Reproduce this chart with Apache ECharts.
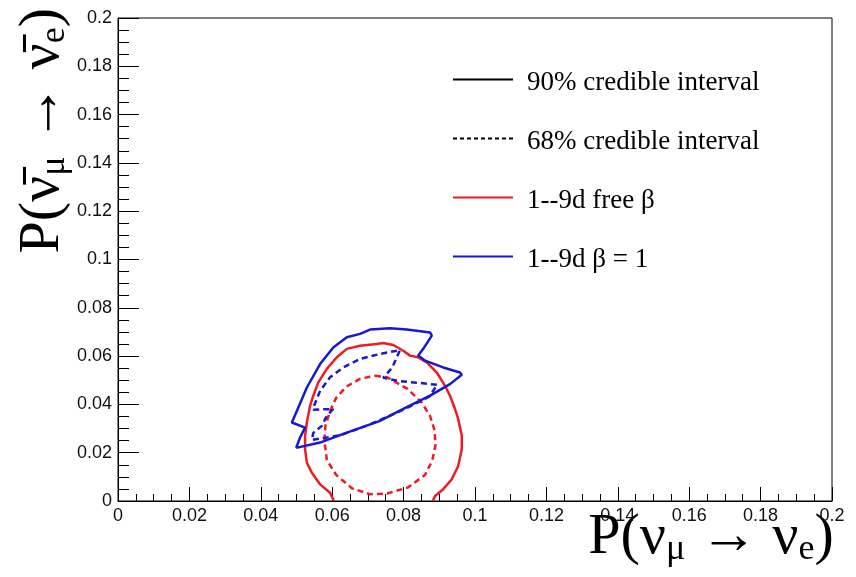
<!DOCTYPE html>
<html>
<head>
<meta charset="utf-8">
<script src="https://cdn.jsdelivr.net/npm/echarts@6/dist/echarts.min.js"></script>
<style>
html,body{margin:0;padding:0;background:#fff;}
#chart{width:856px;height:577px;}
</style>
</head>
<body>
<div id="chart"></div>
<script>
// Axis settings
const axisMin = 0;
const axisMax = 0.2;
const axisInterval = 0.02;
const tickLabels = ['0','0.02','0.04','0.06','0.08','0.1','0.12','0.14','0.16','0.18','0.2'];

// Legend entries
const legendNames = ['90% credible interval', '68% credible interval', '1--9d free β', '1--9d β = 1'];

// 90% credible contour, free beta (red, solid) [x, y]
const red90 = [
  [0.0605,0.0000],[0.0594,0.0034],[0.0566,0.0069],[0.0543,0.0117],[0.0529,0.0159],
  [0.0524,0.0215],[0.0524,0.0270],[0.0529,0.0325],[0.0538,0.0394],[0.0547,0.0436],
  [0.0561,0.0491],[0.0585,0.0547],[0.0613,0.0595],[0.0641,0.0630],[0.0678,0.0643],
  [0.0725,0.0650],[0.0743,0.0654],[0.0771,0.0646],[0.0799,0.0622],[0.0818,0.0602],
  [0.0841,0.0595],[0.0865,0.0574],[0.0893,0.0532],[0.0916,0.0477],[0.0930,0.0436],
  [0.0944,0.0381],[0.0953,0.0339],[0.0963,0.0270],[0.0963,0.0215],[0.0953,0.0145],
  [0.0935,0.0090],[0.0911,0.0049],[0.0888,0.0021],[0.0882,0.0000]
];

// 68% credible contour, free beta (red, dashed)
const red68 = [
  [0.0720,0.0519],[0.0754,0.0512],[0.0810,0.0465],[0.0849,0.0411],[0.0874,0.0353],
  [0.0887,0.0291],[0.0889,0.0228],[0.0880,0.0166],[0.0860,0.0108],[0.0812,0.0056],
  [0.0754,0.0031],[0.0706,0.0028],[0.0656,0.0052],[0.0611,0.0108],[0.0585,0.0170],
  [0.0578,0.0249],[0.0581,0.0311],[0.0594,0.0373],[0.0611,0.0427],[0.0639,0.0473],
  [0.0678,0.0506],[0.0720,0.0519]
];

// 90% credible contour, beta = 1 (blue, solid)
const blue90 = [
  [0.0499,0.0220],[0.0566,0.0242],[0.0641,0.0283],[0.0734,0.0332],[0.0799,0.0381],
  [0.0874,0.0436],[0.0930,0.0484],[0.0963,0.0523],[0.0958,0.0532],[0.0911,0.0553],
  [0.0860,0.0581],[0.0841,0.0602],[0.0855,0.0630],[0.0879,0.0685],[0.0874,0.0698],
  [0.0809,0.0710],[0.0762,0.0715],[0.0706,0.0710],[0.0678,0.0692],[0.0641,0.0678],
  [0.0603,0.0636],[0.0566,0.0567],[0.0529,0.0470],[0.0501,0.0373],[0.0487,0.0325],
  [0.0524,0.0304],[0.0510,0.0263],[0.0499,0.0220]
];

// 68% credible contour, beta = 1 (blue, dashed)
const blue68 = [
  [0.0893,0.0481],[0.0837,0.0490],[0.0790,0.0496],[0.0743,0.0510],[0.0768,0.0552],
  [0.0790,0.0625],[0.0734,0.0609],[0.0678,0.0588],[0.0631,0.0553],[0.0594,0.0512],
  [0.0566,0.0456],[0.0549,0.0394],[0.0547,0.0378],[0.0603,0.0381],[0.0585,0.0353],
  [0.0571,0.0311],[0.0547,0.0282],[0.0543,0.0253],[0.0622,0.0272],[0.0706,0.0317],
  [0.0799,0.0378],[0.0874,0.0434],[0.0893,0.0481]
];

const RED = '#ec1c24';
const BLUE = '#1818d0';
const serif = "'Liberation Serif', 'DejaVu Serif', serif";
const sans = "'Liberation Sans', Arial, sans-serif";

// legend icons: a solid line and a dashed line (tiny dot below lifts the line above centre)
const lift = 'M30,8h0.01v0.01h-0.01Z';
const solidIcon = 'path://M0,0H60V2H0Z' + lift;
let dashPath = 'path://';
for (let x = 0; x < 60; x += 7) { dashPath += 'M' + x + ',0h4v2h-4Z'; }
const dashedIcon = dashPath + 'M59.99,0h0.01v0.01h-0.01Z' + lift;

function fmt(v) {
  const i = Math.round((v - axisMin) / axisInterval);
  return tickLabels[i] !== undefined ? tickLabels[i] : '';
}

function contour(name, data, color, dashed) {
  return {
    name: name,
    type: 'line',
    data: data,
    showSymbol: false,
    symbol: 'none',
    smooth: false,
    silent: true,
    clip: true,
    z: 3,
    lineStyle: { color: color, width: 2.5, type: dashed ? [6, 4] : 'solid' },
    itemStyle: { color: color }
  };
}

function legendOnly(name, color) {
  return {
    name: name,
    type: 'line',
    data: [],
    symbol: 'none',
    lineStyle: { color: color, width: 2 },
    itemStyle: { color: color }
  };
}

const axisCommon = {
  type: 'value',
  min: axisMin,
  max: axisMax,
  interval: axisInterval,
  splitLine: { show: false },
  nameMoveOverlap: false,
  axisLine: { show: true, onZero: false, lineStyle: { color: '#000', width: 1 } }
};

const titleRich = {
  a: { fontFamily: serif, fontSize: 58, lineHeight: 60, color: '#000' },
  s: { fontFamily: serif, fontSize: 36, lineHeight: 36, color: '#000', padding: [24, 0, 0, 0] }
};

const option = {
  animation: false,
  backgroundColor: '#fff',
  grid: {
    left: 118, right: 24, top: 18, bottom: 76,
    containLabel: false, outerBoundsMode: 'none',
    show: true, borderColor: '#000', borderWidth: 1, backgroundColor: 'transparent'
  },
  legend: {
    orient: 'vertical',
    left: 448,
    top: 64,
    itemWidth: 60,
    itemHeight: 14,
    itemGap: 32,
    symbolKeepAspect: true,
    data: [
      { name: legendNames[0], icon: solidIcon },
      { name: legendNames[1], icon: dashedIcon },
      { name: legendNames[2], icon: solidIcon },
      { name: legendNames[3], icon: solidIcon }
    ],
    selectedMode: false,
    textStyle: { fontFamily: serif, fontSize: 27, color: '#000', lineHeight: 27, padding: [0, 0, 0, 9] }
  },
  xAxis: Object.assign({}, axisCommon, {
    name: '{a|P(ν}{s|μ}{a| → ν}{s|e}{a|)}',
    nameLocation: 'middle',
    nameGap: 7,
    nameTextStyle: {
      verticalAlign: 'top', padding: [0, 0, 0, 472],
      fontFamily: serif, fontSize: 58, color: '#000',
      rich: titleRich
    },
    axisTick: { show: true, inside: true, length: 14, lineStyle: { color: '#000' } },
    minorTick: { show: true, splitNumber: 4, length: 7, lineStyle: { color: '#000' } },
    axisLabel: { formatter: fmt, fontFamily: sans, fontSize: 18, color: '#111', margin: 6 }
  }),
  yAxis: Object.assign({}, axisCommon, {
    name: '{a|P(ν̄}{s|μ}{a| → ν̄}{s|e}{a|)}',
    nameLocation: 'end',
    nameGap: 10,
    nameRotate: 90,
    nameTextStyle: {
      align: 'right', verticalAlign: 'bottom', padding: [0, 0, 45, 0],
      fontFamily: serif, fontSize: 58, color: '#000',
      rich: titleRich
    },
    axisTick: { show: true, inside: true, length: 21, lineStyle: { color: '#000' } },
    minorTick: { show: true, splitNumber: 4, length: 11, lineStyle: { color: '#000' } },
    axisLabel: { formatter: fmt, fontFamily: sans, fontSize: 18, color: '#111', margin: 6 }
  }),
  series: [
    legendOnly(legendNames[0], '#000'),
    legendOnly(legendNames[1], '#000'),
    legendOnly(legendNames[2], RED),
    legendOnly(legendNames[3], BLUE),
    contour('red90', red90, RED, false),
    contour('red68', red68, RED, true),
    contour('blue90', blue90, BLUE, false),
    contour('blue68', blue68, BLUE, true)
  ]
};

const chart = echarts.init(document.getElementById('chart'), null, { renderer: 'canvas' });
chart.setOption(option);
</script>
</body>
</html>
